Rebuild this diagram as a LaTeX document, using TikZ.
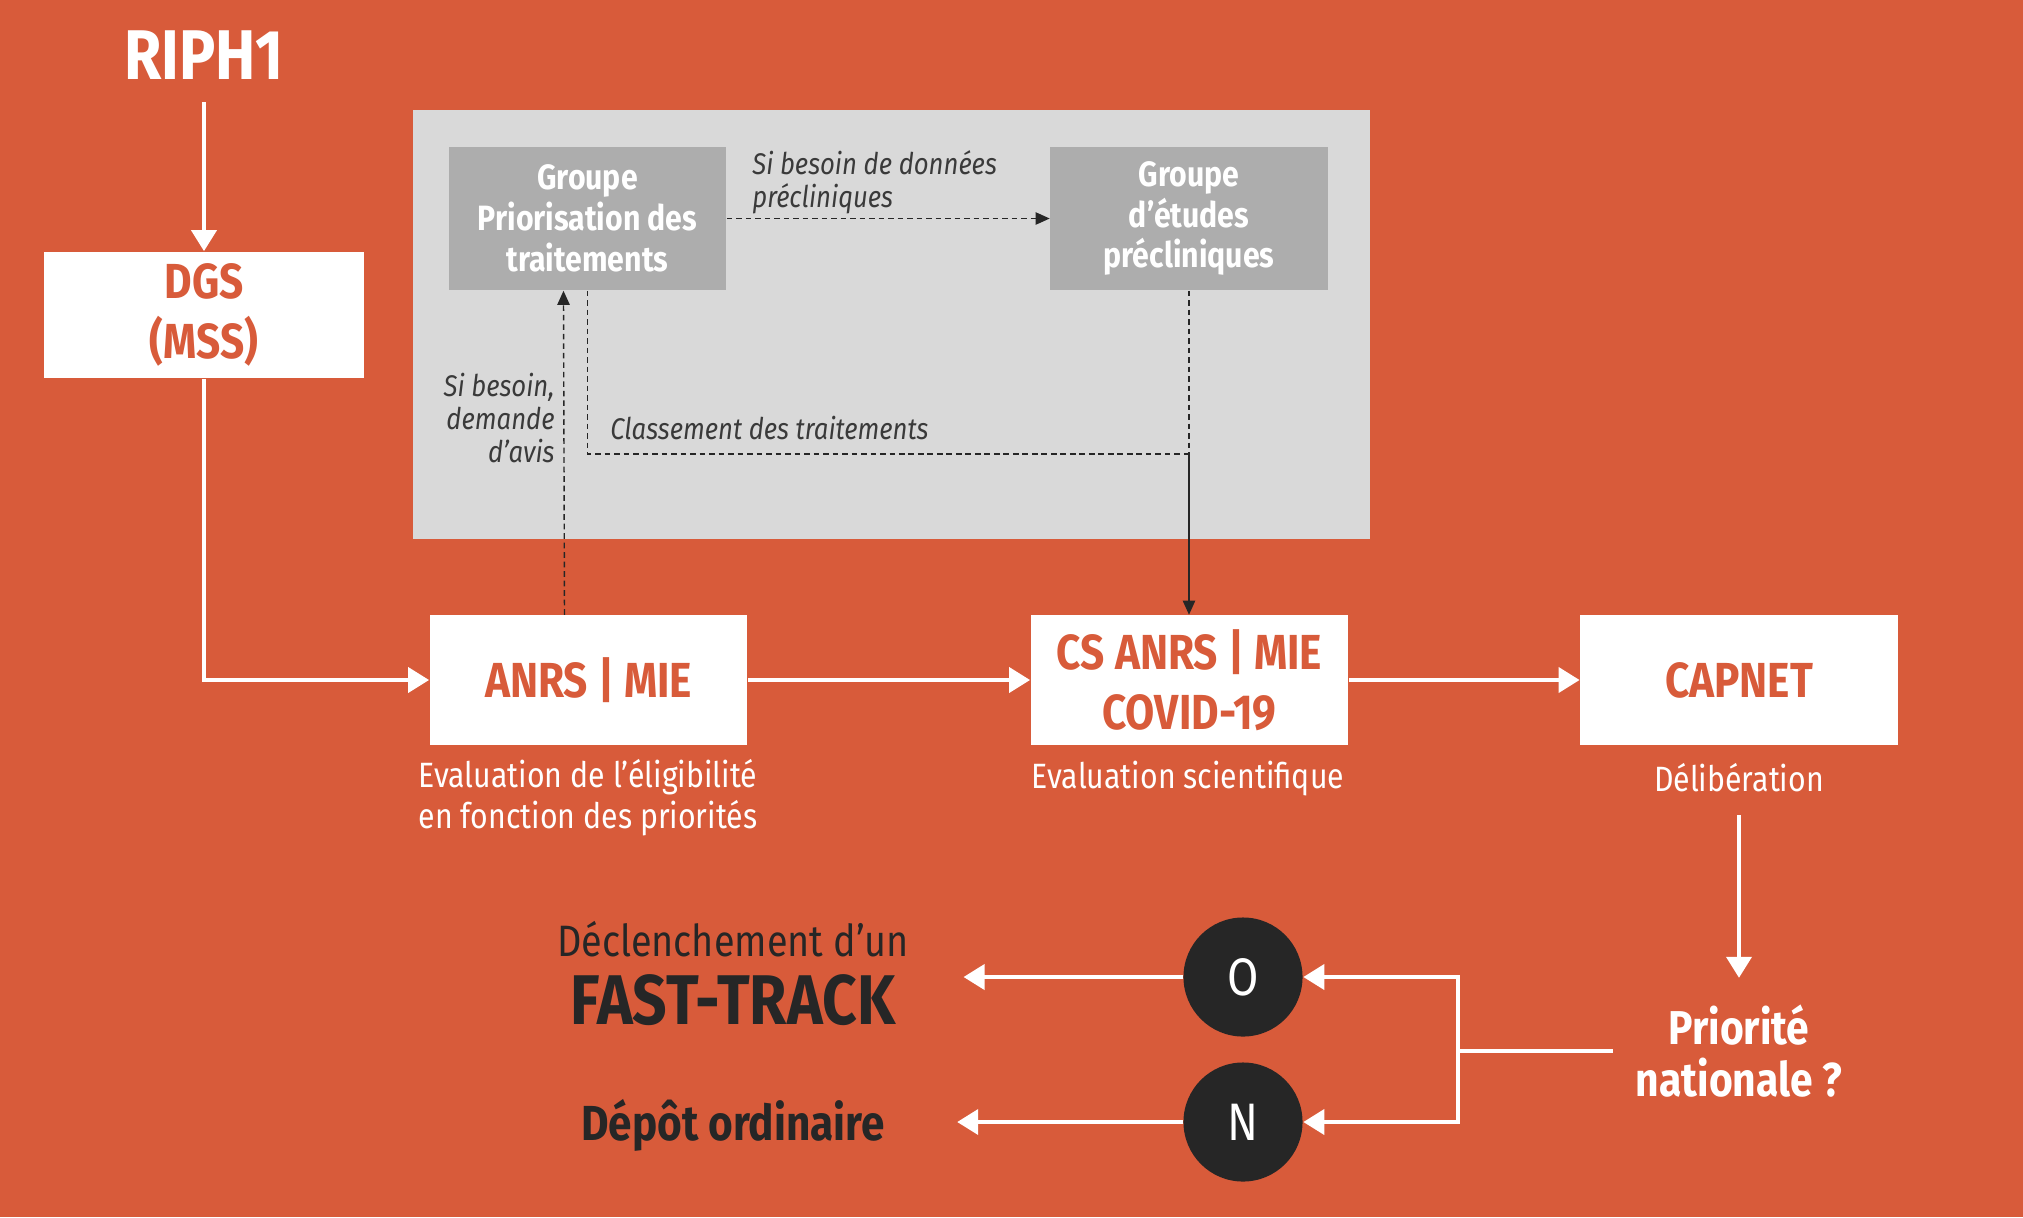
\documentclass[tikz,border=0pt]{standalone}
\usepackage{fontspec}
\setmainfont{Fira Sans}[FakeStretch=0.86]
\usetikzlibrary{arrows.meta,positioning,calc}
\definecolor{bg}{HTML}{D85B3A}
\definecolor{panelc}{HTML}{D9D9D9}
\definecolor{gbox}{HTML}{ADADAD}
\definecolor{ink}{HTML}{262626}
\definecolor{note}{HTML}{3A3A3A}
\newcommand{\fsz}[2]{\fontsize{#1}{#2}\selectfont}
\tikzset{whitebox/.style={rectangle,fill=white,text=bg,font=\bfseries\fsz{14}{17},align=center,
    minimum width=3.17cm,minimum height=1.29cm,inner sep=0pt},
  greybox/.style={rectangle,fill=gbox,text=white,font=\bfseries\fsz{10}{11.6},align=center,
    minimum width=2.77cm,minimum height=1.43cm,inner sep=0pt},
  caption/.style={text=white,font=\fsz{10}{11.6},align=center},
  notes/.style={text=note,font=\itshape\fsz{8.5}{9.5}},
  choice/.style={circle,fill=ink,text=white,minimum size=1.19cm,inner sep=0pt,font=\fsz{15}{15}},
  flow/.style={draw=white,line width=1.4pt,-{Triangle[length=6pt,width=7pt]}},
  wline/.style={draw=white,line width=1.4pt},
  dashline/.style={draw=ink,line width=.4pt,dash pattern=on 1.6pt off 1.1pt},
  dashflow/.style={dashline,-{Triangle[length=4pt,width=3.5pt]}},
  thinflow/.style={draw=ink,line width=.4pt,-{Triangle[length=4pt,width=3.5pt]}}}

\begin{document}
\begin{tikzpicture}[x=.01cm,y=-.01cm]
\fill[bg] (0,0) rectangle (2023,1217);
\node[rectangle,fill=panelc,minimum width=9.57cm,minimum height=4.29cm] (panel) at (891.5,324.5) {};
% boxes
\node[text=white,font=\bfseries\fsz{20}{22}] (riph) at (204,55) {RIPH1};
\node[whitebox,minimum width=3.19cm,minimum height=1.26cm] (dgs) at (204,315) {DGS\\(MSS)};
\node[greybox] (prio) at (587.5,218.5) {Groupe\\Priorisation des\\traitements};
\node[greybox] (etudes) at (1189,218.5) {Groupe\\d’études\\précliniques};
\node[whitebox] (anrs) at (588.5,680) {ANRS | MIE};
\node[whitebox] (cs) at (1189.5,680) {CS ANRS | MIE\\COVID-19};
\node[whitebox] (capnet) at (1739,680) {CAPNET};
\node[caption] (elig) at (588,798) {Evaluation de l’éligibilité\\en fonction des priorités};
\node[caption] (sci) at (1188,779) {Evaluation scientifique};
\node[caption] (delib) at (1739,778) {Délibération};
\node[text=white,font=\bfseries\fsz{13.5}{15},align=center] (prioq) at (1739,1051) {Priorité\\nationale ?};
\node[choice] (oui) at (1243,977) {O};
\node[choice] (non) at (1243,1122) {N};
\node[text=ink,align=center] (fast) at (733,973)
  {{\fsz{12.5}{14}Déclenchement d’un}\\[4pt]{\bfseries\fsz{20}{21}FAST-TRACK}};
\node[text=ink,font=\bfseries\fsz{14}{15}] (depot) at (733,1125) {Dépôt ordinaire};
% labels in the grey panel
\node[notes,anchor=west,align=left] (lbdon) at (740,182) {Si besoin de données\\précliniques};
\node[notes,anchor=east,align=right] (lbavis) at (567,418) {Si besoin,\\demande\\d’avis};
\node[notes,anchor=west] (lbclass) at (598,428) {Classement des traitements};
\coordinate (jn) at (1189,454);
\coordinate (split) at (1458,1051);
% connectors
\draw[flow,shorten <=3pt] (riph) -- (dgs);
\draw[flow] (dgs.south) |- (anrs.west);
\draw[flow] (anrs) -- (cs);
\draw[flow] (cs) -- (capnet);
\draw[flow,shorten <=3pt,shorten >=4pt] (delib) -- (prioq);
\draw[wline,shorten <=3pt] (prioq.west) -- (split);
\draw[flow] (split) |- (oui.east);
\draw[flow] (split) |- (non.east);
\draw[flow,shorten >=12pt] (oui.west) -- (oui.west -| fast.east);
\draw[flow,shorten >=17pt] (non.west) -- (non.west -| depot.east);
\draw[dashflow] (prio) -- (etudes);
\draw[dashflow] ([xshift=-.24cm]anrs.north) -- ([xshift=-.24cm]prio.south);
\draw[dashline] (prio.south) |- (jn);
\draw[dashline] (etudes.south) -- (jn);
\draw[thinflow] (jn) -- (jn |- cs.north);
\end{tikzpicture}
\end{document}
